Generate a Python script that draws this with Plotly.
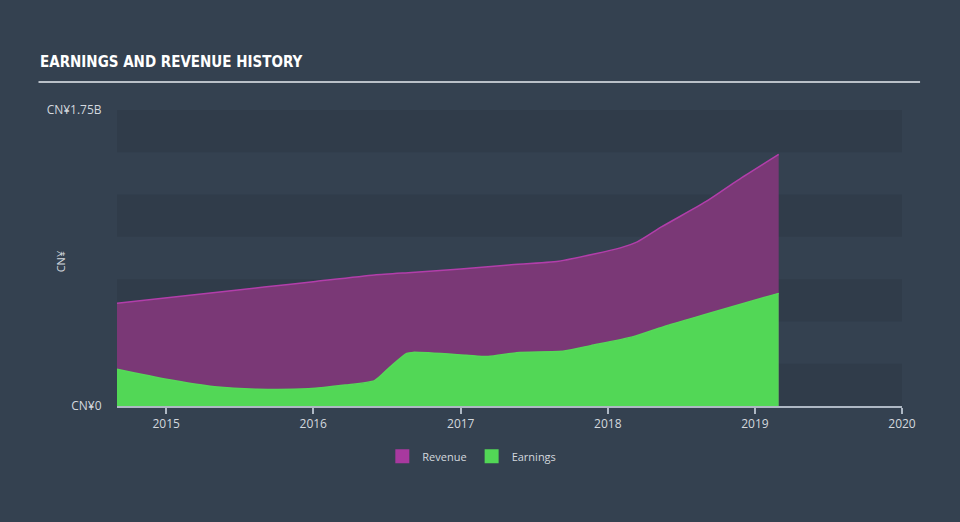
import plotly.graph_objects as go

# ---- data (CN¥ billions) ----
rev_dates = ["2014-09-01", "2015-03-01", "2015-09-01", "2016-01-01", "2016-06-01",
             "2016-09-01", "2017-01-01", "2017-05-01", "2017-09-01", "2017-12-01",
             "2018-02-01", "2018-03-15", "2018-05-15", "2018-09-01", "2018-11-20",
             "2019-03-01"]
revenue = [0.607, 0.655, 0.703, 0.735, 0.775, 0.790, 0.810, 0.834, 0.856, 0.900,
           0.935, 0.970, 1.060, 1.208, 1.336, 1.488]

earn_dates = ["2014-09-01", "2015-01-01", "2015-05-01", "2015-08-15", "2015-12-20",
              "2016-03-20", "2016-06-01", "2016-07-10", "2016-08-20", "2016-09-05",
              "2017-01-15", "2017-03-10", "2017-05-20", "2017-09-15", "2017-11-20",
              "2018-03-05", "2018-05-20", "2019-03-01"]
earnings = [0.217, 0.158, 0.114, 0.099, 0.102, 0.124, 0.150, 0.232, 0.311, 0.317,
            0.300, 0.292, 0.315, 0.325, 0.357, 0.410, 0.469, 0.666]

year_ticks = ["2015-01-01", "2016-01-01", "2017-01-01", "2018-01-01", "2019-01-01", "2020-01-01"]
year_labels = ["2015", "2016", "2017", "2018", "2019", "2020"]
y_ticks = [0, 1.75]
y_labels = ["CN¥0", "CN¥1.75B"]

BG = "#344150"
TXT = "#d3d8de"
AX = "#aeb8c4"

fig = go.Figure()

fig.add_trace(go.Scatter(
    x=rev_dates, y=revenue, mode="lines", line=dict(color="#b23eaa", width=1.5, shape="spline", smoothing=0.6),
    fill="tozeroy", fillcolor="#7a3876", showlegend=False, hoverinfo="skip"))
fig.add_trace(go.Scatter(
    x=earn_dates, y=earnings, mode="lines", line=dict(color="#56d958", width=1.5, shape="spline", smoothing=0.6),
    fill="tozeroy", fillcolor="#52d756", showlegend=False, hoverinfo="skip"))

# legend entries
fig.add_trace(go.Scatter(x=[None], y=[None], mode="markers", name="Revenue",
                         marker=dict(symbol="square", size=14, color="#a8399f")))
fig.add_trace(go.Scatter(x=[None], y=[None], mode="markers", name="Earnings",
                         marker=dict(symbol="square", size=14, color="#52d756")))

shapes = []
# horizontal bands (darker ones alternate)
for i in range(7):
    lo = i * 0.25
    hi = lo + 0.25
    if i % 2 == 0:
        shapes.append(dict(type="rect", xref="paper", yref="y", x0=0, x1=1, y0=lo, y1=hi,
                           fillcolor="rgba(20,28,40,0.13)", line=dict(width=0), layer="below"))
# title underline
shapes.append(dict(type="line", xref="paper", yref="paper", x0=-0.100, x1=1.023, y0=1.095, y1=1.095,
                   line=dict(color="#b9c0c8", width=2)))

fig.update_layout(
    width=960, height=522,
    paper_bgcolor=BG, plot_bgcolor=BG,
    margin=dict(l=117, r=58, t=110, b=116),
    shapes=shapes,
    showlegend=True,
    legend=dict(orientation="h", x=0.452, xanchor="center", y=-0.17, yanchor="middle",
                font=dict(family="Open Sans", size=11, color=TXT), bgcolor="rgba(0,0,0,0)",
                itemclick=False),
    annotations=[
        dict(text="<b>EARNINGS AND REVENUE HISTORY</b>", xref="paper", yref="paper",
             x=-0.101, y=1.125, xanchor="left", yanchor="bottom", showarrow=False,
             font=dict(family="DejaVu Sans Condensed", size=15, color="#ffffff")),
        dict(text="CN¥", xref="paper", yref="paper", x=-0.083, y=0.49, textangle=-90,
             showarrow=False, font=dict(family="Open Sans", size=11, color=TXT)),
    ],
    xaxis=dict(type="date", range=["2014-09-01", "2020-01-01"], tickvals=year_ticks, ticktext=year_labels,
               showgrid=False, zeroline=False, showline=True, linecolor=AX, linewidth=1.5,
               ticks="outside", ticklen=6, tickcolor=AX, tickwidth=1.5,
               tickfont=dict(family="Open Sans", size=12, color=TXT)),
    yaxis=dict(range=[0, 1.75], tickvals=y_ticks, ticktext=y_labels, showgrid=False, zeroline=False,
               showline=False, ticks="outside", ticklen=12, tickcolor="rgba(0,0,0,0)",
               tickfont=dict(family="Open Sans", size=12, color=TXT)),
)

fig.write_html("out.html")
